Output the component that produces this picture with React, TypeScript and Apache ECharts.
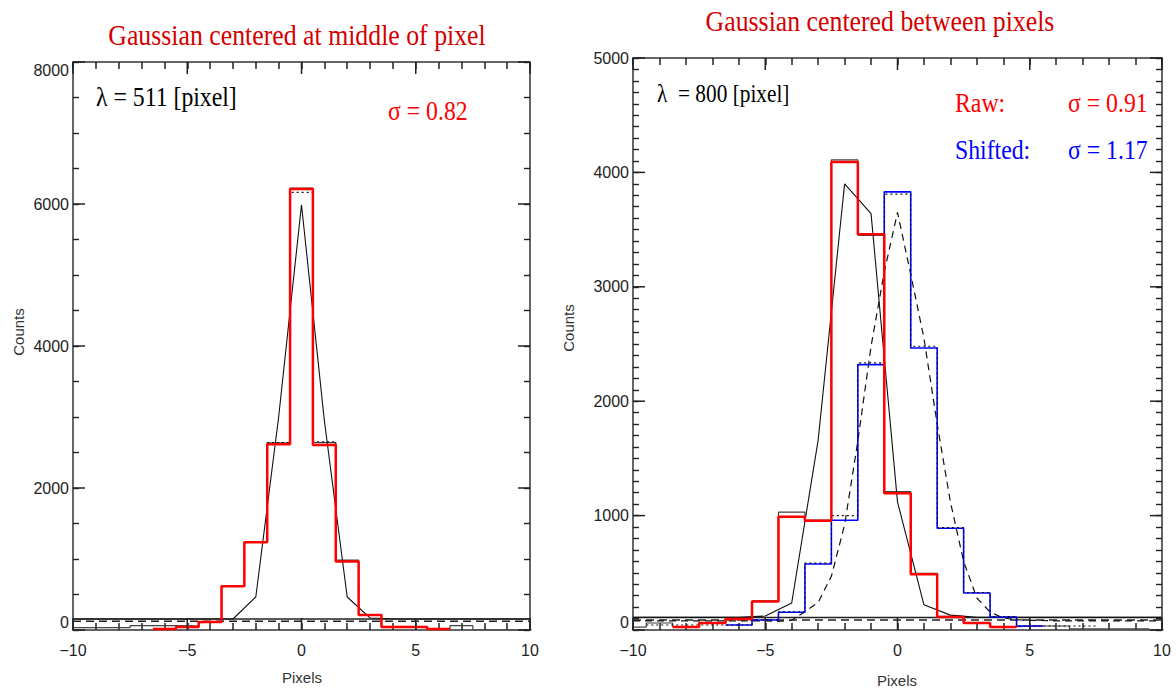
import React, { useEffect, useRef } from "react";
import * as echarts from "echarts";

// ---------- shared axis data ----------
const xRange = [-10, 10];
const xTickStep = 5;
const xMinorStep = 1;
const yMaxL = 8000;
const yStepL = 2000;
const yMinorL = 500;
const yMaxR = 5000;
const yStepR = 1000;
const yMinorR = 100;

// ---------- left panel: Gaussian centered at middle of pixel ----------
const binCentersL = [-10, -9, -8, -7, -6, -5, -4, -3, -2, -1, 0, 1, 2, 3, 4, 5, 6, 7, 8, 9, 10];
const blackHistL = [33, 33, 33, 61, 61, 55, 120, 625, 1245, 2635, 6225, 2640, 985, 218, 46, 46, 14, 61, 0, 0, 0];
const redCentersL = [-6, -5, -4, -3, -2, -1, 0, 1, 2, 3, 4, 5, 6];
const redHistL = [14, 42, 113, 615, 1235, 2615, 6210, 2605, 965, 210, 44, 44, 14];
const dottedCentersL = [-5, -4, -3, -2, -1, 0, 1, 2, 3, 4, 5];
const dottedHistL = [50, 116, 620, 1240, 2640, 6165, 2650, 975, 214, 46, 46];
const gaussXL = [-10, -9, -8, -7, -6, -5, -4, -3, -2, -1, 0, 1, 2, 3, 4, 5, 6, 7, 8, 9, 10];
const gaussL = [155, 155, 155, 155, 155, 155, 155, 155, 465, 3000, 5990, 2950, 465, 170, 155, 155, 155, 155, 155, 155, 155];
const levelSolidL = 155;
const levelDashedL = 125;

// ---------- right panel: Gaussian centered between pixels ----------
const binCentersR = [-10, -9, -8, -7, -6, -5, -4, -3, -2, -1, 0, 1, 2, 3, 4, 5, 6, 7, 8, 9, 10];
const blackHistR = [26, 61, 30, 65, 100, 255, 1030, 960, 4110, 3450, 1210, 495, 120, 65, 30, 35, 35, 10, 10, 10, 0];
const redCentersR = [-8, -7, -6, -5, -4, -3, -2, -1, 0, 1, 2, 3, 4];
const redHistR = [26, 61, 96, 250, 990, 955, 4090, 3460, 1195, 488, 114, 61, 26];
const blueCentersR = [-6, -5, -4, -3, -2, -1, 0, 1, 2, 3, 4, 5];
const blueHistR = [44, 87, 155, 577, 960, 2320, 3830, 2465, 890, 323, 114, 35];
const dottedCentersR = [-9, -8, -7, -6, -5, -4, -3, -2, -1, 0, 1, 2, 3, 4, 5, 6, 7];
const dottedHistR = [44, 44, 44, 44, 90, 160, 585, 1000, 2335, 3810, 2480, 895, 328, 118, 35, 35, 35];
const rawLineXR = [-10, -9, -8, -7, -6, -5, -4, -3, -2, -1, 0, 1, 2, 3, 4, 5, 6, 7, 8, 9, 10];
const rawLineR = [110, 110, 110, 110, 110, 122, 236, 1660, 3900, 3640, 1120, 220, 130, 110, 110, 110, 110, 110, 110, 110, 110];
const shiftLineXR = [-10, -6, -5, -4.5, -4, -3.5, -3, -2.5, -2, -1.5, -1, -0.5, 0, 0.5, 1, 1.5, 2, 2.5, 3, 3.5, 4, 4.5, 5, 6, 10];
const shiftLineR = [80, 80, 80, 75, 85, 160, 240, 470, 920, 1650, 2480, 3130, 3650, 3110, 2550, 1800, 1120, 600, 280, 157, 105, 90, 85, 80, 80];
const levelSolidR = 110;
const levelDashedR = 87;

// ---------- texts ----------
const titleL = "Gaussian centered at middle of pixel";
const titleR = "Gaussian centered between pixels";
const lambdaL = "\u03bb = 511 [pixel]";
const sigmaL = "\u03c3 = 0.82";
const lambdaR = "\u03bb  = 800 [pixel]";
const rawLabel = "Raw:";
const rawSigma = "\u03c3 = 0.91";
const shiftLabel = "Shifted:";
const shiftSigma = "\u03c3 = 1.17";
const xName = "Pixels";
const yName = "Counts";

const SANS = "'Liberation Sans', Arial, Helvetica, sans-serif";
const SERIF = "'Liberation Serif', 'Times New Roman', Times, serif";
const AX = "#333";

// grid boxes (pixels)
const boxL = { left: 73, top: 62, width: 457, height: 568 };
const boxR = { left: 633, top: 58, width: 529, height: 572 };

function range(a: number, b: number, s: number) {
  const out: number[] = [];
  for (let v = a; v <= b + 1e-9; v += s) out.push(Math.round(v * 1000) / 1000);
  return out;
}
const xMinorTicks = range(xRange[0], xRange[1], xMinorStep);
const yMinorTicksL = range(0, yMaxL, yMinorL);
const yMinorTicksR = range(0, yMaxR, yMinorR);

function steps(centers: number[], values: number[]) {
  const pts: number[][] = [];
  centers.forEach((c, i) => {
    pts.push([c - 0.5, values[i]], [c + 0.5, values[i]]);
  });
  return pts;
}
function pairs(xs: number[], ys: number[]) {
  return xs.map((x, i) => [x, ys[i]]);
}
function level(v: number) {
  return [
    [xRange[0], v],
    [xRange[1], v],
  ];
}

// Each side uses the axis ticks for the 1-unit / minor steps; labels only on major values
function xAx(grid: number, pos: string, labels: boolean) {
  return {
    type: "value",
    gridIndex: grid,
    position: pos,
    min: xRange[0],
    max: xRange[1],
    interval: xMinorStep,
    axisLine: { show: true, onZero: false, lineStyle: { color: AX, width: 1.5 } },
    axisTick: { show: true, inside: true, length: 7, lineStyle: { color: "#222", width: 1.5 } },
    splitLine: { show: false },
    axisLabel: {
      show: labels,
      margin: 12,
      fontSize: 16,
      color: "#222",
      fontFamily: SANS,
      showMinLabel: true,
      showMaxLabel: true,
      formatter: (v: number) => (v % xTickStep === 0 ? String(v).replace("-", "\u2212") : ""),
    },
  };
}

function yAx(grid: number, pos: string, max: number, step: number, minor: number, labels: boolean, nudgeMax: boolean) {
  return {
    type: "value",
    gridIndex: grid,
    position: pos,
    min: 0,
    max,
    interval: minor,
    axisLine: { show: true, onZero: false, lineStyle: { color: AX, width: 1.5 } },
    axisTick: { show: true, inside: true, length: 6, lineStyle: { color: "#222", width: 1.4 } },
    splitLine: { show: false },
    axisLabel: {
      show: labels,
      margin: 4,
      fontSize: 16,
      color: "#222",
      fontFamily: SANS,
      showMinLabel: true,
      showMaxLabel: true,
      verticalAlignMinLabel: "bottom",
      verticalAlignMaxLabel: nudgeMax ? "top" : "middle",
      formatter: (v: number) => (v % step === 0 ? String(v) : ""),
    },
  };
}

function line(data: any[], xi: number, yi: number, color: string, width: number, type: any, z: number) {
  return {
    type: "line",
    xAxisIndex: xi,
    yAxisIndex: yi,
    data,
    showSymbol: false,
    symbol: "none",
    silent: true,
    z,
    lineStyle: { color, width, type },
  };
}

// longer marks at the major values, on all four sides
function majorTickSeries(xTicks: number[], yTicks: number[], yMax: number, ai: number) {
  const items: number[][] = [];
  xTicks.forEach((t) => items.push([t, 0, 0], [t, yMax, 1]));
  yTicks.forEach((t) => items.push([xRange[0], t, 2], [xRange[1], t, 3]));
  return {
    type: "custom",
    coordinateSystem: "cartesian2d",
    xAxisIndex: ai,
    yAxisIndex: ai,
    silent: true,
    z: 20,
    clip: false,
    encode: { x: 0, y: 1 },
    data: items,
    renderItem: (params: any, api: any) => {
      const p = api.coord([api.value(0), api.value(1)]);
      const side = api.value(2);
      const L = 12;
      let x2 = p[0];
      let y2 = p[1];
      if (side === 0) y2 = p[1] - L;
      else if (side === 1) y2 = p[1] + L;
      else if (side === 2) x2 = p[0] + L;
      else x2 = p[0] - L;
      return {
        type: "line",
        shape: { x1: p[0], y1: p[1], x2, y2 },
        style: { stroke: "#222", lineWidth: 1.5, fill: null },
      };
    },
  };
}

function txt(text: string, x: number, y: number, color: string, size: number, align: string, family = SERIF, sx = 0.86, rotation = 0) {
  return {
    type: "text",
    x,
    y,
    scaleX: sx,
    rotation,
    silent: true,
    style: {
      text,
      fill: color,
      fontSize: size,
      fontFamily: family,
      align,
      verticalAlign: "middle",
    },
  };
}

const xMajorTicks = range(xRange[0], xRange[1], xTickStep);
const yMajorTicksL = range(0, yMaxL, yStepL);
const yMajorTicksR = range(0, yMaxR, yStepR);

export default function App() {
  const ref = useRef<HTMLDivElement>(null);
  useEffect(() => {
    if (!ref.current) return;
    const chart = echarts.init(ref.current, null, { renderer: "svg" });
    const option: any = {
      animation: false,
      backgroundColor: "#ffffff",
      grid: [
        { ...boxL, containLabel: false },
        { ...boxR, containLabel: false },
      ],
      xAxis: [xAx(0, "bottom", true), xAx(0, "top", false), xAx(1, "bottom", true), xAx(1, "top", false)],
      yAxis: [
        yAx(0, "left", yMaxL, yStepL, yMinorL, true, true),
        yAx(0, "right", yMaxL, yStepL, yMinorL, false, true),
        yAx(1, "left", yMaxR, yStepR, yMinorR, true, false),
        yAx(1, "right", yMaxR, yStepR, yMinorR, false, false),
      ],
      series: [
        // left panel
        line(level(levelSolidL), 0, 0, "#222", 1.5, "solid", 2),
        line(level(levelDashedL), 0, 0, "#222", 1.5, [8, 5], 2),
        line(steps(binCentersL, blackHistL), 0, 0, "#444", 1.2, "solid", 3),
        line(steps(dottedCentersL, dottedHistL), 0, 0, "#111", 1.2, [2, 3], 4),
        line(pairs(gaussXL, gaussL), 0, 0, "#111", 1.1, "solid", 5),
        line(steps(redCentersL, redHistL), 0, 0, "#ff0000", 2.5, "solid", 6),
        majorTickSeries(xMajorTicks, yMajorTicksL, yMaxL, 0),
        // right panel
        line(level(levelSolidR), 2, 2, "#222", 1.5, "solid", 2),
        line(level(levelDashedR), 2, 2, "#222", 1.5, [8, 5], 2),
        line(steps(binCentersR, blackHistR), 2, 2, "#444", 1.2, "solid", 3),
        line(pairs(rawLineXR, rawLineR), 2, 2, "#111", 1.1, "solid", 5),
        line(pairs(shiftLineXR, shiftLineR), 2, 2, "#111", 1.2, [7, 5], 5),
        line(steps(blueCentersR, blueHistR), 2, 2, "#0000ff", 1.6, "solid", 6),
        line(steps(dottedCentersR, dottedHistR), 2, 2, "#111", 1.1, [2, 3], 7),
        line(steps(redCentersR, redHistR), 2, 2, "#ff0000", 2.5, "solid", 8),
        majorTickSeries(xMajorTicks, yMajorTicksR, yMaxR, 2),
      ],
      graphic: [
        txt(titleL, 297, 35, "#d40000", 30, "center"),
        txt(titleR, 880, 21, "#d40000", 30, "center"),
        txt(lambdaL, 96, 97, "#000", 27, "left", SERIF, 0.88),
        txt(sigmaL, 388, 111, "#ff0000", 27, "left", SERIF, 0.88),
        txt(lambdaR, 657, 93, "#000", 26, "left", SERIF, 0.82),
        txt(rawLabel, 955, 103, "#ff0000", 27, "left", SERIF, 0.88),
        txt(rawSigma, 1068, 103, "#ff0000", 27, "left", SERIF, 0.88),
        txt(shiftLabel, 955, 150, "#0000ff", 27, "left", SERIF, 0.88),
        txt(shiftSigma, 1068, 150, "#0000ff", 27, "left", SERIF, 0.88),
        txt(xName, 302, 677, "#333", 15, "center", SANS, 1),
        txt(xName, 897, 680, "#333", 15, "center", SANS, 1),
        txt(yName, 18, 332, "#333", 15, "center", SANS, 1, Math.PI / 2),
        txt(yName, 568, 328, "#333", 15, "center", SANS, 1, Math.PI / 2),
      ],
    };
    chart.setOption(option);
    return () => chart.dispose();
  }, []);
  return (
    <div
      ref={ref}
      style={{ position: "fixed", left: 0, top: 0, width: 1176, height: 692, background: "#fff" }}
    />
  );
}
